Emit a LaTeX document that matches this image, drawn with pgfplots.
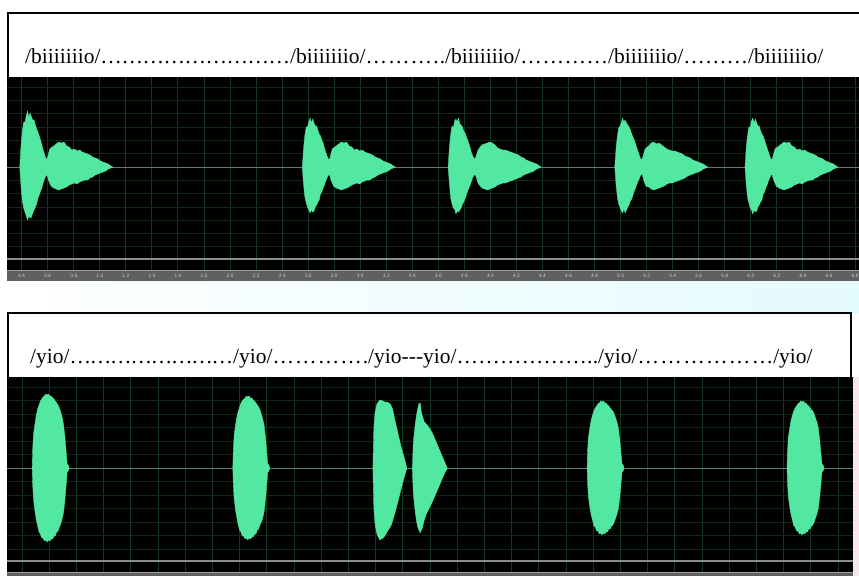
\documentclass[border=0pt]{standalone}
\usepackage{fontspec}
\setmainfont{Liberation Serif}
\usepackage{pgfplots}
\usepackage{pgfplotstable}
\pgfplotsset{compat=1.18}
\definecolor{wave}{RGB}{82,232,162}
\definecolor{gridv}{RGB}{20,56,33}
\definecolor{gridh}{RGB}{15,40,24}
\definecolor{cline}{RGB}{95,125,110}
\definecolor{gline}{RGB}{140,140,140}
\definecolor{band}{RGB}{96,96,96}
\definecolor{bandtxt}{RGB}{210,210,210}
\definecolor{lcyan}{RGB}{228,251,255}
\definecolor{lpink}{RGB}{250,228,240}

\pgfplotsset{wavepanel/.style={scale only axis, axis background/.style={fill=black},
  axis line style={draw=none}, major tick length=0pt, grid=major,
  major x grid style={gridv, line width=0.9pt}, major y grid style={gridh, line width=0.8pt},
  yticklabels={}},
  wv/.style={fill=wave, draw=wave, line width=0.3pt, no markers}}

% ---- top panel: /biiiiiiio/ (t in s, amplitude in px) ----
\pgfplotstableread{
t up lo
0.385 0 0
0.395 22 -20
0.405 36 -34
0.415 45 -41
0.425 45 -45
0.435 51 -49
0.445 56 -53
0.455 50 -49
0.465 54 -51
0.475 50 -50
0.485 47 -46
0.495 47 -43
0.505 42 -40
0.515 38 -37
0.525 35 -31
0.535 31 -28
0.545 27 -24
0.555 22 -21
0.565 17 -16
0.575 13 -12
0.585 9 -9
0.595 8 -8
0.605 13 -13
0.615 18 -16
0.625 19 -19
0.645 21 -21
0.665 23 -22
0.685 25 -23
0.705 24 -22
0.725 25 -21
0.745 21 -20
0.765 20 -18
0.785 17 -17
0.805 18 -16
0.825 16 -17
0.845 17 -15
0.865 15 -14
0.885 14 -13
0.905 13 -13
0.925 12 -11
0.945 10 -10
0.965 9 -8
0.985 8 -7
1.005 6 -6
1.025 5 -5
1.045 4 -4
1.065 3 -2
1.085 1 -1
1.099 0 0
}\biA
\pgfplotstableread{
t up lo
2.555 0 0
2.565 19 -18
2.575 32 -30
2.585 40 -36
2.595 40 -40
2.605 45 -43
2.615 49 -46
2.625 44 -43
2.635 48 -45
2.645 44 -44
2.655 41 -40
2.665 41 -38
2.675 37 -35
2.685 33 -33
2.695 31 -27
2.705 27 -25
2.715 24 -21
2.725 19 -18
2.735 15 -14
2.745 11 -11
2.755 8 -8
2.765 8 -8
2.775 13 -13
2.785 18 -16
2.795 19 -19
2.815 21 -21
2.835 23 -22
2.855 25 -23
2.875 24 -22
2.895 25 -21
2.915 21 -20
2.935 20 -18
2.955 17 -17
2.975 18 -16
2.995 16 -17
3.015 17 -15
3.035 15 -14
3.055 14 -13
3.075 13 -13
3.095 12 -11
3.115 10 -10
3.135 9 -8
3.155 8 -7
3.175 6 -6
3.195 5 -5
3.215 4 -4
3.235 3 -2
3.255 1 -1
3.269 0 0
}\biB
\pgfplotstableread{
t up lo
3.675 0 0
3.685 20 -17
3.695 33 -31
3.705 41 -37
3.715 39 -41
3.725 46 -42
3.735 48 -47
3.745 45 -44
3.755 49 -45
3.765 43 -43
3.775 42 -41
3.785 40 -37
3.795 36 -35
3.805 34 -32
3.815 30 -28
3.825 27 -24
3.835 23 -21
3.845 19 -18
3.855 14 -14
3.865 11 -10
3.875 8 -8
3.885 9 -8
3.895 13 -12
3.905 17 -16
3.915 19 -18
3.935 22 -21
3.955 23 -22
3.975 24 -23
3.995 25 -22
4.015 24 -21
4.035 22 -20
4.055 19 -18
4.075 18 -17
4.095 17 -16
4.115 17 -16
4.135 16 -15
4.155 15 -14
4.175 14 -13
4.195 13 -12
4.215 12 -11
4.235 10 -10
4.255 9 -8
4.275 7 -7
4.295 6 -6
4.315 5 -5
4.335 4 -4
4.355 3 -2
4.375 1 -1
4.389 0 0
}\biC
\pgfplotstableread{
t up lo
4.955 0 0
4.965 19 -18
4.975 31 -30
4.985 39 -37
4.995 41 -40
5.005 44 -44
5.015 49 -46
5.025 45 -42
5.035 47 -46
5.045 44 -43
5.055 42 -40
5.065 40 -38
5.075 37 -34
5.085 33 -32
5.095 30 -28
5.105 27 -24
5.115 23 -21
5.125 19 -17
5.135 15 -14
5.145 11 -11
5.155 8 -8
5.165 8 -7
5.175 12 -12
5.185 17 -16
5.195 19 -19
5.215 21 -20
5.235 24 -22
5.255 25 -23
5.275 23 -22
5.295 24 -21
5.315 22 -20
5.335 20 -19
5.355 18 -17
5.375 17 -16
5.395 16 -16
5.415 16 -15
5.435 15 -14
5.455 14 -13
5.475 13 -12
5.495 11 -11
5.515 10 -9
5.535 9 -8
5.555 7 -7
5.575 6 -6
5.595 5 -5
5.615 4 -4
5.635 3 -2
5.655 1 -1
5.669 0 0
}\biD
\pgfplotstableread{
t up lo
5.955 0 0
5.965 20 -18
5.975 32 -31
5.985 40 -36
5.995 40 -41
6.005 46 -43
6.015 49 -47
6.025 44 -43
6.035 48 -45
6.045 44 -44
6.055 41 -40
6.065 41 -38
6.075 36 -35
6.085 33 -33
6.095 31 -27
6.105 27 -25
6.115 23 -21
6.125 19 -18
6.135 15 -14
6.145 11 -11
6.155 8 -8
6.165 8 -8
6.175 13 -13
6.185 18 -16
6.195 19 -19
6.215 21 -21
6.235 23 -22
6.255 25 -23
6.275 24 -22
6.295 25 -21
6.315 21 -20
6.335 20 -18
6.355 17 -17
6.375 18 -16
6.395 16 -17
6.415 17 -15
6.435 15 -14
6.455 14 -13
6.475 13 -13
6.495 12 -11
6.515 10 -10
6.535 9 -8
6.555 8 -7
6.575 6 -6
6.595 5 -5
6.615 4 -4
6.635 3 -2
6.655 1 -1
6.669 0 0
}\biE

% ---- bottom panel: /yio/ ----
\pgfplotstableread{
t up lo
0.475 0 0
0.479 20 -18
0.485 34 -32
0.495 44 -43
0.505 53 -52
0.515 59 -58
0.525 63 -64
0.535 67 -66
0.545 69 -70
0.555 71 -70
0.565 72 -73
0.575 74 -72
0.585 73 -74
0.595 74 -72
0.605 72 -73
0.615 72 -71
0.625 70 -71
0.635 69 -68
0.645 67 -68
0.655 65 -64
0.665 63 -63
0.675 60 -59
0.685 56 -56
0.695 51 -51
0.705 44 -45
0.715 32 -33
0.725 16 -17
0.732 4 -4
0.740 3 -3
0.747 0 0
}\yA
\pgfplotstableread{
t up lo
1.950 0 0
1.954 19 -18
1.960 33 -31
1.970 43 -42
1.980 51 -50
1.990 57 -57
2.000 61 -62
2.010 65 -64
2.020 67 -68
2.030 69 -68
2.040 70 -71
2.050 72 -70
2.060 71 -72
2.070 72 -70
2.080 70 -71
2.090 70 -69
2.100 68 -69
2.110 67 -66
2.120 65 -66
2.130 63 -62
2.140 61 -61
2.150 58 -57
2.160 54 -54
2.170 49 -50
2.180 43 -44
2.190 31 -32
2.200 15 -16
2.207 4 -4
2.215 3 -3
2.222 0 0
}\yB
\pgfplotstableread{
t up lo
2.980 0 0
2.987 40 -40
2.995 55 -55
3.009 64 -66
3.031 68 -72
3.054 67 -70
3.068 66 -68
3.083 66 -64
3.098 65 -61
3.112 63 -58
3.127 58 -52
3.142 48 -45
3.156 40 -38
3.171 31 -30
3.186 22 -22
3.201 15 -14
3.215 8 -7
3.230 0 0
}\yC
\pgfplotstableread{
t up lo
3.270 0 0
3.277 25 -25
3.292 45 -45
3.307 58 -58
3.318 64 -62
3.329 65 -65
3.336 56 -62
3.344 52 -60
3.358 46 -52
3.373 44 -46
3.395 40 -40
3.417 35 -34
3.439 28 -27
3.461 21 -20
3.483 14 -13
3.505 7 -6
3.527 0 0
}\yD
\pgfplotstableread{
t up lo
4.555 0 0
4.559 18 -16
4.565 31 -29
4.575 40 -39
4.585 48 -47
4.595 53 -52
4.605 57 -58
4.615 60 -59
4.625 62 -63
4.635 64 -63
4.645 65 -66
4.655 67 -65
4.665 66 -67
4.675 67 -65
4.685 65 -66
4.695 65 -64
4.705 63 -64
4.715 62 -61
4.725 60 -61
4.735 58 -58
4.745 57 -57
4.755 54 -54
4.765 50 -50
4.775 46 -46
4.785 40 -41
4.795 29 -30
4.805 14 -15
4.812 4 -4
4.820 3 -3
4.827 0 0
}\yE
\pgfplotstableread{
t up lo
6.025 0 0
6.029 18 -16
6.035 31 -29
6.045 40 -39
6.055 48 -47
6.065 53 -52
6.075 57 -58
6.085 60 -59
6.095 62 -63
6.105 64 -63
6.115 65 -66
6.125 67 -65
6.135 66 -67
6.145 67 -65
6.155 65 -66
6.165 65 -64
6.175 63 -64
6.185 62 -61
6.195 60 -61
6.205 58 -58
6.215 57 -57
6.225 54 -54
6.235 50 -50
6.245 46 -46
6.255 40 -41
6.265 29 -30
6.275 14 -15
6.282 4 -4
6.290 3 -3
6.297 0 0
}\yF

\begin{document}
\begin{tikzpicture}
\useasboundingbox (0pt,0pt) rectangle (859pt,-576pt);
\fill[white] (0pt,0pt) rectangle (859pt,-576pt);
\shade[left color=white, right color=lcyan] (0pt,-281pt) rectangle (859pt,-313pt);
\fill[lpink] (853pt,-377pt) rectangle (859pt,-576pt);
% ruler bands
\fill[band] (7pt,-270pt) rectangle (859pt,-281pt);
\draw[gray!75, line width=0.8pt] (7pt,-270.4pt) -- (859pt,-270.4pt);
\fill[band] (7pt,-572pt) rectangle (853pt,-576pt);
\draw[gray!75, line width=0.8pt] (7pt,-572.4pt) -- (853pt,-572.4pt);

% ---------- top waveform ----------
\begin{axis}[wavepanel, at={(7pt,-77pt)}, anchor=north west,
  width=852pt, height=193pt,
  xmin=0.2871, xmax=6.8309, ymin=-103, ymax=90,
  xtick={0.4,0.6,0.8,1.0,1.2,1.4,1.6,1.8,2.0,2.2,2.4,2.6,2.8,3.0,3.2,3.4,3.6,3.8,4.0,4.2,4.4,4.6,4.8,5.0,5.2,5.4,5.6,5.8,6.0,6.2,6.4,6.6,6.8},
  ytick={-79.8,-66.5,-53.2,-39.9,-26.6,-13.3,13.3,26.6,39.9,53.2,66.5,79.8},
  xticklabel style={font=\sffamily\fontsize{5}{5}\selectfont, text=bandtxt, anchor=center, yshift=-6pt},
  /pgf/number format/assume math mode=true,
  /pgf/number format/.cd, fixed, fixed zerofill, precision=1]
\draw[gline, line width=2pt] (axis cs:0.2871,-92) -- (axis cs:6.8309,-92);
\draw[cline, line width=1pt] (axis cs:0.2871,0) -- (axis cs:6.8309,0);
\addplot[wv] table[x=t,y=up]{\biA}\closedcycle;
\addplot[wv] table[x=t,y=lo]{\biA}\closedcycle;
\addplot[wv] table[x=t,y=up]{\biB}\closedcycle;
\addplot[wv] table[x=t,y=lo]{\biB}\closedcycle;
\addplot[wv] table[x=t,y=up]{\biC}\closedcycle;
\addplot[wv] table[x=t,y=lo]{\biC}\closedcycle;
\addplot[wv] table[x=t,y=up]{\biD}\closedcycle;
\addplot[wv] table[x=t,y=lo]{\biD}\closedcycle;
\addplot[wv] table[x=t,y=up]{\biE}\closedcycle;
\addplot[wv] table[x=t,y=lo]{\biE}\closedcycle;
\end{axis}

% ---------- bottom waveform ----------
\begin{axis}[wavepanel, at={(7pt,-377pt)}, anchor=north west,
  width=846pt, height=195pt,
  xmin=0.2897, xmax=6.5103, ymin=-104, ymax=91,
  xtick={0.4,0.6,0.8,1.0,1.2,1.4,1.6,1.8,2.0,2.2,2.4,2.6,2.8,3.0,3.2,3.4,3.6,3.8,4.0,4.2,4.4,4.6,4.8,5.0,5.2,5.4,5.6,5.8,6.0,6.2,6.4},
  xticklabels={},
  ytick={-81,-67.5,-54,-40.5,-27,-13.5,13.5,27,40.5,54,67.5,81}]
\draw[gline, line width=2pt] (axis cs:0.2897,-93) -- (axis cs:6.5103,-93);
\draw[cline, line width=1pt] (axis cs:0.2897,0) -- (axis cs:6.5103,0);
\addplot[wv] table[x=t,y=up]{\yA}\closedcycle;
\addplot[wv] table[x=t,y=lo]{\yA}\closedcycle;
\addplot[wv] table[x=t,y=up]{\yB}\closedcycle;
\addplot[wv] table[x=t,y=lo]{\yB}\closedcycle;
\addplot[wv] table[x=t,y=up]{\yC}\closedcycle;
\addplot[wv] table[x=t,y=lo]{\yC}\closedcycle;
\addplot[wv] table[x=t,y=up]{\yD}\closedcycle;
\addplot[wv] table[x=t,y=lo]{\yD}\closedcycle;
\addplot[wv] table[x=t,y=up]{\yE}\closedcycle;
\addplot[wv] table[x=t,y=lo]{\yE}\closedcycle;
\addplot[wv] table[x=t,y=up]{\yF}\closedcycle;
\addplot[wv] table[x=t,y=lo]{\yF}\closedcycle;
\end{axis}

% ---------- text boxes ----------
\fill[white] (8pt,-13pt) rectangle (862pt,-76pt);
\draw[line width=1.6pt] (8pt,-77pt) -- (8pt,-13pt) -- (862pt,-13pt);
\fill[white] (8pt,-313pt) rectangle (851pt,-376pt);
\draw[line width=1.6pt] (8pt,-377pt) -- (8pt,-313pt) -- (851pt,-313pt) -- (851pt,-377pt);

\node[anchor=base west, inner sep=0pt, font=\fontsize{21.5}{24}\selectfont] at (25pt,-63pt)
{/biiiiiiio/\hbox to 189.7pt{…\hss…\hss…\hss…\hss…\hss…\hss…\hss…\hss…}/biiiiiiio/\hbox to 79.7pt{…\hss…\hss…\hss.\hss.}/biiiiiiio/\hbox to 87.7pt{…\hss…\hss…\hss…}/biiiiiiio/\hbox to 64.7pt{…\hss…\hss…}/biiiiiiio/};

\node[anchor=base west, inner sep=0pt, font=\fontsize{21.5}{24}\selectfont] at (30pt,-363pt)
{/yio/\hbox to 163.6pt{…\hss…\hss…\hss…\hss…\hss…\hss…\hss…}/yio/\hbox to 95.6pt{…\hss…\hss…\hss…\hss.}/yio-{}-{}-yio/\hbox to 141.6pt{…\hss…\hss…\hss…\hss…\hss…\hss.\hss.}/yio/\hbox to 135.6pt{…\hss…\hss…\hss…\hss…\hss…}/yio/};
\end{tikzpicture}
\end{document}
